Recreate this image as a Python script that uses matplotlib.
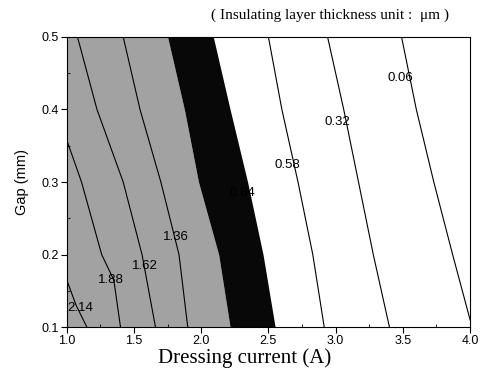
import matplotlib
matplotlib.use("Agg")
import matplotlib.pyplot as plt
from matplotlib.ticker import MultipleLocator

# contour levels (insulating layer thickness, um) and where each line sits
# gap values (mm) shared by the full-height lines
gap = [0.1, 0.2, 0.3, 0.4, 0.5]

cur_006 = [4.00, 3.87, 3.73, 3.60, 3.49]
cur_032 = [3.40, 3.28, 3.17, 3.06, 2.94]
cur_058 = [2.915, 2.83, 2.72, 2.60, 2.50]
cur_084 = [2.55, 2.46, 2.345, 2.215, 2.09]
cur_110 = [2.215, 2.13, 1.98, 1.875, 1.75]
cur_136 = [1.90, 1.835, 1.70, 1.545, 1.42]
cur_162 = [1.66, 1.56, 1.42, 1.225, 1.08]

# lines that leave through the left edge
gap_188 = [0.1, 0.165, 0.2, 0.3, 0.358]
cur_188 = [1.40, 1.35, 1.26, 1.11, 1.00]
gap_214 = [0.1, 0.13, 0.165]
cur_214 = [1.15, 1.07, 1.00]

# the 0.06 line meets the right edge just above 0.1
gap_006 = [0.11, 0.2, 0.3, 0.4, 0.5]

# inline labels: text, current, gap
label_text = ["0.06", "0.32", "0.58", "0.84", "1.36", "1.62", "1.88", "2.14"]
label_x = [3.48, 3.015, 2.64, 2.31, 1.81, 1.58, 1.33, 1.10]
label_y = [0.443, 0.383, 0.323, 0.285, 0.224, 0.184, 0.165, 0.126]

fig = plt.figure(figsize=(4.98, 3.73), dpi=100)
ax = fig.add_axes([0.134, 0.123, 0.81, 0.778])

# shaded bands: grey above 1.10, black between 0.84 and 1.10
ax.fill_betweenx(gap, 1.0, cur_110, color="#a2a2a2", lw=0)
ax.fill_betweenx(gap, cur_110, cur_084, color="#080808", lw=0)

lc = dict(color="black", lw=0.8)
ax.plot(cur_006, gap_006, **lc)
for c in [cur_032, cur_058, cur_136, cur_162]:
    ax.plot(c, gap, **lc)
ax.plot(cur_188, gap_188, **lc)
ax.plot(cur_214, gap_214, **lc)

for t, x, y in zip(label_text, label_x, label_y):
    ax.text(x, y, t, ha="center", va="center", fontsize=9.5,
            family="Liberation Sans", color="black")

ax.set_xlim(1.0, 4.0)
ax.set_ylim(0.1, 0.5)
ax.xaxis.set_major_locator(MultipleLocator(0.5))
ax.xaxis.set_minor_locator(MultipleLocator(0.25))
ax.yaxis.set_major_locator(MultipleLocator(0.1))
ax.yaxis.set_minor_locator(MultipleLocator(0.05))
ax.tick_params(which="major", direction="out", length=4, width=0.8, pad=2,
               labelsize=9)
ax.tick_params(which="minor", direction="in", length=2, width=0.6)
for lab in ax.get_xticklabels() + ax.get_yticklabels():
    lab.set_family("Liberation Sans")
for s in ax.spines.values():
    s.set_linewidth(0.8)

ax.set_ylabel("Gap (mm)", family="Liberation Sans", fontsize=10.5, labelpad=9)
fig.text(0.492, 0.040, "Dressing current (A)", ha="center", va="center",
         family="Liberation Serif", fontsize=15)

fig.text(0.663, 0.958, "( Insulating layer thickness unit :  \u03bcm )",
         ha="center", va="center", family="Liberation Serif", fontsize=11)

fig.savefig("out.png", dpi=100)
